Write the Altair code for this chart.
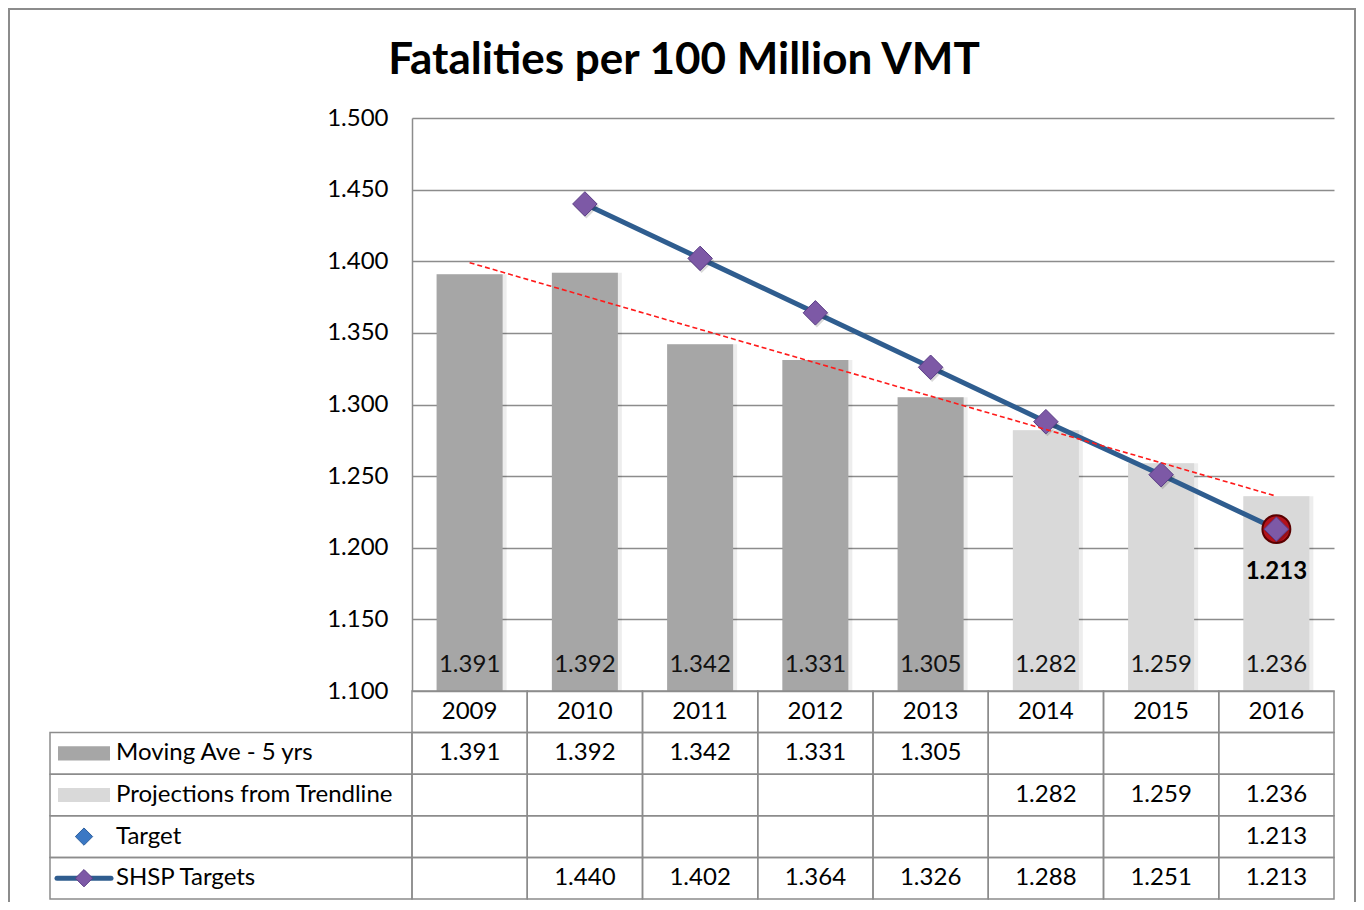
import altair as alt
import pandas as pd

# ---------------- data ----------------
years = [2009, 2010, 2011, 2012, 2013, 2014, 2015, 2016]
moving_ave = [1.391, 1.392, 1.342, 1.331, 1.305, None, None, None]
projections = [None, None, None, None, None, 1.282, 1.259, 1.236]
target = [None, None, None, None, None, None, None, 1.213]
shsp_targets = [None, 1.440, 1.402, 1.364, 1.326, 1.288, 1.251, 1.213]
trend_years = [2009, 2016]
trend_values = [1.399, 1.236]
series_names = ["Moving Ave - 5 yrs", "Projections from Trendline", "Target", "SHSP Targets"]
y_ticks = [1.100, 1.150, 1.200, 1.250, 1.300, 1.350, 1.400, 1.450, 1.500]
chart_title = "Fatalities per 100 Million VMT"

# ---------------- layout ----------------
PLOT_LEFT, PLOT_TOP, PLOT_W, PLOT_H, TABLE_H = 412, 118, 922, 573, 208
COL_W = PLOT_W / len(years)
X_MIN, X_MAX = years[0] - 0.5, years[-1] + 0.5
Y_MIN, Y_MAX = y_ticks[0], y_ticks[-1]
FONT = "Lato"
FS = 24
GRID = "#8c8c8c"
DARK_BAR, LIGHT_BAR = "#a6a6a6", "#d9d9d9"
LINE_BLUE, PURPLE = "#2f5d8f", "#7d59a6"


def px_x(px):
    return X_MIN + (px - PLOT_LEFT) / COL_W


x_scale = alt.Scale(domain=[X_MIN, X_MAX], nice=False, zero=False, padding=0)
y_scale = alt.Scale(domain=[Y_MIN, Y_MAX], nice=False, zero=False, padding=0)
t_scale = alt.Scale(domain=[0, 5], range=[PLOT_H, PLOT_H + TABLE_H], nice=False, zero=False, padding=0)
color_scale = alt.Scale(domain=series_names[:2], range=[DARK_BAR, LIGHT_BAR])

y_axis = alt.Axis(values=y_ticks, format=".3f", title=None, grid=True, gridColor=GRID, gridWidth=1.5,
                  domainColor=GRID, domainWidth=1.5, ticks=False, labelPadding=24,
                  labelFont=FONT, labelFontSize=FS, labelColor="#000000")

# ---------------- frames ----------------
bar_rows = []
for yr, m, p in zip(years, moving_ave, projections):
    if m is not None:
        bar_rows.append({"year": yr, "value": m, "kind": series_names[0]})
    if p is not None:
        bar_rows.append({"year": yr, "value": p, "kind": series_names[1]})
bar_df = pd.DataFrame(bar_rows)

shsp_df = pd.DataFrame([{"year": yr, "value": v} for yr, v in zip(years, shsp_targets) if v is not None])
target_df = pd.DataFrame([{"year": yr, "value": v} for yr, v in zip(years, target) if v is not None])
trend_df = pd.DataFrame({"year": trend_years, "value": trend_values})

X = alt.X("year:Q", scale=x_scale, axis=None)
Y = alt.Y("value:Q", scale=y_scale, axis=y_axis)

bar_shadow = alt.Chart(bar_df).mark_bar(size=70, xOffset=2, color="#000000", opacity=0.07).encode(
    x=X, y=Y, y2=alt.datum(Y_MIN))
bars = alt.Chart(bar_df).mark_bar(size=66).encode(
    x=X, y=Y, y2=alt.datum(Y_MIN),
    color=alt.Color("kind:N", scale=color_scale, legend=None),
)
bar_text = alt.Chart(bar_df).mark_text(dy=-26, font=FONT, fontSize=FS, color="#111111").encode(
    x=X, y=alt.datum(Y_MIN), text=alt.Text("value:Q", format=".3f"))

shsp_line = alt.Chart(shsp_df).mark_line(color=LINE_BLUE, strokeWidth=5).encode(x=X, y=Y)
target_pt = alt.Chart(target_df).mark_point(shape="circle", filled=True, size=780, fill="#b3121c",
                                            stroke="#5a0000", strokeWidth=2, opacity=1).encode(x=X, y=Y)
diamond_shadow = alt.Chart(shsp_df).mark_point(shape="diamond", filled=True, size=640, color="#000000",
                                               opacity=0.15, xOffset=1.5, yOffset=2).encode(x=X, y=Y)
diamonds = alt.Chart(shsp_df).mark_point(shape="diamond", filled=True, size=600, fill=PURPLE,
                                         stroke="#5b3d86", strokeWidth=1, opacity=1).encode(x=X, y=Y)
trend = alt.Chart(trend_df).mark_line(color="#ff1a1a", strokeDash=[5, 3], strokeWidth=1.6).encode(x=X, y=Y)
target_label = alt.Chart(target_df).mark_text(dy=43, font=FONT, fontSize=FS, fontWeight="bold",
                                              color="#000000").encode(
    x=X, y=Y, text=alt.Text("value:Q", format=".3f"))

main = alt.layer(bar_shadow, bars, bar_text, shsp_line, target_pt, diamond_shadow, diamonds, trend,
                 target_label)

# ---------------- data table ----------------
table_values = [moving_ave, projections, target, shsp_targets]
cells = []
for yr in years:
    for r in range(5):
        cells.append({"x0": yr - 0.5, "x1": yr + 0.5, "r0": r, "r1": r + 1})
for r in range(1, 5):
    cells.append({"x0": px_x(50), "x1": X_MIN, "r0": r, "r1": r + 1})
cell_df = pd.DataFrame(cells)

texts = []
for yr in years:
    texts.append({"xc": yr, "rc": 0.5, "label": str(yr)})
for i, vals in enumerate(table_values):
    for yr, v in zip(years, vals):
        if v is not None:
            texts.append({"xc": yr, "rc": i + 1.5, "label": f"{v:.3f}"})
text_df = pd.DataFrame(texts)
name_df = pd.DataFrame({"xc": [px_x(116)] * 4, "rc": [1.5, 2.5, 3.5, 4.5], "label": series_names})

TX = alt.X("xc:Q", scale=x_scale, axis=None)
TY = alt.Y("rc:Q", scale=t_scale, axis=None)

cell_marks = alt.Chart(cell_df).mark_rect(fillOpacity=0, stroke=GRID, strokeWidth=1.5).encode(
    x=alt.X("x0:Q", scale=x_scale, axis=None), x2="x1:Q",
    y=alt.Y("r0:Q", scale=t_scale, axis=None), y2="r1:Q")
cell_text = alt.Chart(text_df).mark_text(font=FONT, fontSize=FS, color="#000000").encode(
    x=TX, y=TY, text="label:N")
name_text = alt.Chart(name_df).mark_text(font=FONT, fontSize=FS, color="#000000", align="left").encode(
    x=TX, y=TY, text="label:N")

sw_df = pd.DataFrame({"x0": [px_x(58)] * 2, "x1": [px_x(110)] * 2,
                      "r0": [1.5 - 0.17, 2.5 - 0.17], "r1": [1.5 + 0.17, 2.5 + 0.17],
                      "kind": series_names[:2]})
sw_rect = alt.Chart(sw_df).mark_rect().encode(
    x=alt.X("x0:Q", scale=x_scale, axis=None), x2="x1:Q",
    y=alt.Y("r0:Q", scale=t_scale, axis=None), y2="r1:Q",
    color=alt.Color("kind:N", scale=color_scale, legend=None))
sw_line_df = pd.DataFrame({"xc": [px_x(57), px_x(111)], "rc": [4.5, 4.5]})
sw_line = alt.Chart(sw_line_df).mark_line(color=LINE_BLUE, strokeWidth=5, strokeCap="round").encode(x=TX, y=TY)
sw_target = alt.Chart(pd.DataFrame({"xc": [px_x(84)], "rc": [3.5]})).mark_point(
    shape="diamond", filled=True, size=300, fill="#3b78c4", stroke="#2d5f9e", strokeWidth=1, opacity=1
).encode(x=TX, y=TY)
sw_shsp = alt.Chart(pd.DataFrame({"xc": [px_x(84)], "rc": [4.5]})).mark_point(
    shape="diamond", filled=True, size=300, fill=PURPLE, stroke="#5b3d86", strokeWidth=1, opacity=1
).encode(x=TX, y=TY)

deco_df = pd.DataFrame({"label": [chart_title]})
frame = alt.Chart(deco_df).mark_rect(fillOpacity=0, stroke=GRID, strokeWidth=2).encode(
    x=alt.value(9 - PLOT_LEFT), x2=alt.value(1355 - PLOT_LEFT),
    y=alt.value(9 - PLOT_TOP), y2=alt.value(940 - PLOT_TOP))
title_text = alt.Chart(deco_df).mark_text(font=FONT, fontSize=44, fontWeight="bold", color="#000000",
                                          baseline="alphabetic", align="center").encode(
    x=alt.value(684 - PLOT_LEFT), y=alt.value(74 - PLOT_TOP), text="label:N")

table = alt.layer(frame, title_text, cell_marks, cell_text, name_text, sw_rect, sw_line, sw_target, sw_shsp)

chart = alt.layer(main, table).resolve_scale(y="independent").properties(
    width=PLOT_W, height=PLOT_H,
    autosize=alt.AutoSizeParams(type="none"),
    padding={"left": PLOT_LEFT - 8, "top": PLOT_TOP - 8, "right": 1348 - (PLOT_LEFT - 8) - PLOT_W,
             "bottom": 894 - (PLOT_TOP - 8) - PLOT_H},
    background="white",
).configure_view(stroke=None)

chart.save("out.html", embed_options={"renderer": "svg", "actions": False})
